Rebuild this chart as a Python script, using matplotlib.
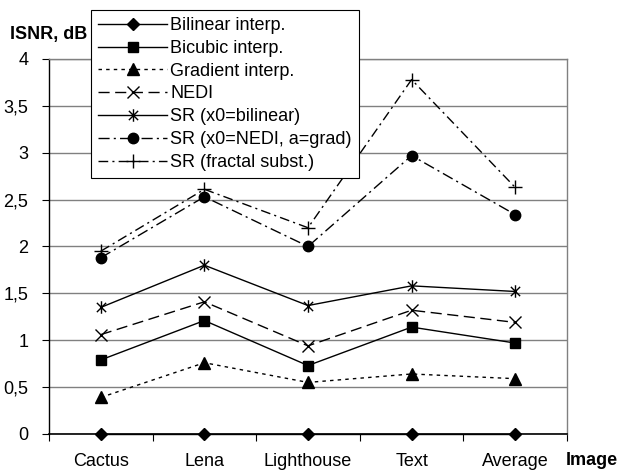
import matplotlib.pyplot as plt
from matplotlib.path import Path
import numpy as np

plt.rcParams['font.family'] = ['Liberation Sans', 'DejaVu Sans']

images = ["Cactus", "Lena", "Lighthouse", "Text", "Average"]

bilinear = [0, 0, 0, 0, 0]
bicubic = [0.79, 1.21, 0.73, 1.14, 0.97]
gradient = [0.39, 0.76, 0.55, 0.64, 0.59]
nedi = [1.06, 1.41, 0.94, 1.32, 1.19]
sr_bilinear = [1.35, 1.80, 1.37, 1.58, 1.52]
sr_nedi_grad = [1.88, 2.53, 2.00, 2.97, 2.34]
sr_fractal = [1.95, 2.61, 2.20, 3.78, 2.63]

labels = ["Bilinear interp.", "Bicubic interp.", "Gradient interp.", "NEDI",
          "SR (x0=bilinear)", "SR (x0=NEDI, a=grad)", "SR (fractal subst.)"]

# asterisk marker like Excel: x plus vertical bar
M, L = Path.MOVETO, Path.LINETO
asterisk = Path([(-1, -1), (1, 1), (-1, 1), (1, -1), (0, -1.35), (0, 1.35)],
                [M, L, M, L, M, L])

fig = plt.figure(figsize=(6.25, 4.73), dpi=100)
ax = fig.add_axes([0.0784, 0.0825, 0.8288, 0.7928])

x = np.arange(len(images))
lw = 1.0
styles = [
    dict(data=bilinear, ls='-', marker='D', ms=6.5, mfc='black'),
    dict(data=bicubic, ls='-', marker='s', ms=7, mfc='black'),
    dict(data=gradient, ls=(0, (2.5, 3)), marker='^', ms=8, mfc='black'),
    dict(data=nedi, ls=(0, (8, 4)), marker='x', ms=8, mfc='none'),
    dict(data=sr_bilinear, ls='-', marker=asterisk, ms=9, mfc='none'),
    dict(data=sr_nedi_grad, ls=(0, (8, 3, 1.5, 3)), marker='o', ms=7.5, mfc='black'),
    dict(data=sr_fractal, ls=(0, (7, 3, 1.5, 3)), marker='+', ms=10, mfc='none'),
]

for st, lab in zip(styles, labels):
    ax.plot(x, st['data'], color='black', linestyle=st['ls'], linewidth=lw,
            marker=st['marker'], markersize=st['ms'], markerfacecolor=st['mfc'],
            markeredgecolor='black', markeredgewidth=1.0, label=lab,
            clip_on=False, zorder=3)

ax.set_xlim(-0.5, len(images) - 0.5)
ax.set_ylim(0, 4)
ax.set_yticks(np.arange(0, 4.01, 0.5))
ax.set_yticklabels(["0", "0,5", "1", "1,5", "2", "2,5", "3", "3,5", "4"])
ax.set_xticks(x)
ax.set_xticklabels(images)
ax.set_xticks(np.arange(-0.5, len(images), 1.0), minor=True)
ax.tick_params(axis='x', which='major', length=0, pad=14, labelsize=13)
ax.tick_params(axis='x', which='minor', length=5, width=0.8, direction='out')
ax.tick_params(axis='y', length=5, width=0.8, pad=10, labelsize=13)

ax.yaxis.grid(True, color='#808080', linewidth=1.0)
ax.set_axisbelow(True)
for side in ['top', 'right']:
    ax.spines[side].set_color('#808080')
    ax.spines[side].set_linewidth(1.0)
ax.spines['left'].set_linewidth(1.0)
ax.spines['bottom'].set_linewidth(1.2)

fig.text(0.016, 0.928, "ISNR, dB", fontsize=13, fontweight='bold', va='center', ha='left')
fig.text(0.905, 0.027, "Image", fontsize=13, fontweight='bold', va='center', ha='left')

leg = fig.legend(loc='upper left', bbox_to_anchor=(0.1456, 0.979), fontsize=13,
                 frameon=True, fancybox=False, edgecolor='black', framealpha=1,
                 handlelength=3.8, handletextpad=0.2, labelspacing=0.32,
                 borderpad=0.4, borderaxespad=0)
leg.get_frame().set_linewidth(0.8)

fig.savefig("out.png", dpi=100)
